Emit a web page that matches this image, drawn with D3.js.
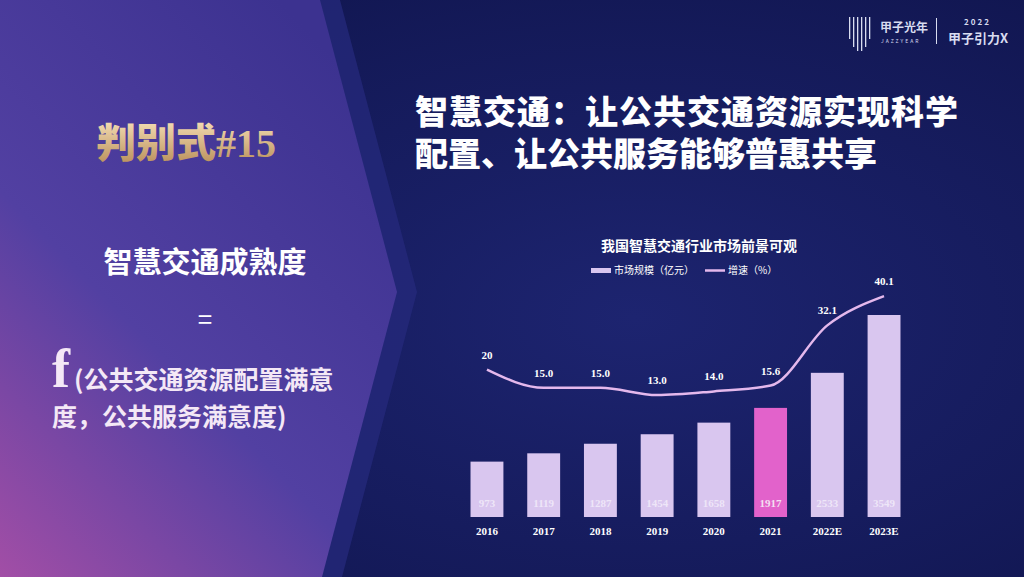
<!DOCTYPE html>
<html>
<head>
<meta charset="utf-8">
<script src="https://cdn.jsdelivr.net/npm/d3@7"></script>
<style>
  html, body { margin: 0; padding: 0; background: #141a5a; }
  svg { display: block; }
</style>
</head>
<body>
<div id="chart"></div>
<script>
// Data
const years = ['2016', '2017', '2018', '2019', '2020', '2021', '2022E', '2023E'];
const marketSize = [973, 1119, 1287, 1454, 1658, 1917, 2533, 3549];
const growthRate = [20, 15.0, 15.0, 13.0, 14.0, 15.6, 32.1, 40.1];
const growthLabels = ['20', '15.0', '15.0', '13.0', '14.0', '15.6', '32.1', '40.1'];
const highlightYear = '2021';
const legendLabels = ['市场规模（亿元）', '增速（%）'];

const WIDTH = 1024;
const HEIGHT = 577;
const CJK = '"Noto Sans CJK SC", "Noto Sans", sans-serif';
const SERIF = '"Liberation Serif", "DejaVu Serif", serif';

const svg = d3.select('#chart')
    .append('svg')
    .attr('width', WIDTH)
    .attr('height', HEIGHT);

const defs = svg.append('defs');

// Background gradient (navy)
const bg = defs.append('radialGradient')
    .attr('id', 'bg')
    .attr('cx', '0.62').attr('cy', '0.55').attr('r', '0.75');
bg.append('stop').attr('offset', '0%').attr('stop-color', '#1d2470');
bg.append('stop').attr('offset', '100%').attr('stop-color', '#10154e');

// Left panel gradient
const panel = defs.append('linearGradient')
    .attr('id', 'panel')
    .attr('x1', '0.7').attr('y1', '0').attr('x2', '0').attr('y2', '1');
panel.append('stop').attr('offset', '0%').attr('stop-color', '#3c3290');
panel.append('stop').attr('offset', '55%').attr('stop-color', '#5240a2');
panel.append('stop').attr('offset', '100%').attr('stop-color', '#a24ea6');

// Gold text gradient
const gold = defs.append('linearGradient')
    .attr('id', 'gold')
    .attr('x1', '0').attr('y1', '0').attr('x2', '0').attr('y2', '1');
gold.append('stop').attr('offset', '0%').attr('stop-color', '#f3dcb2');
gold.append('stop').attr('offset', '100%').attr('stop-color', '#b88d58');

svg.append('rect')
    .attr('width', WIDTH)
    .attr('height', HEIGHT)
    .attr('fill', 'url(#bg)');

// Arrow shaped panels on the left
svg.append('polygon')
    .attr('points', '0,0 340,0 417,292 342,577 0,577')
    .attr('fill', '#252a7c')
    .attr('opacity', 0.75);

svg.append('polygon')
    .attr('points', '0,0 320,0 397,292 322,577 0,577')
    .attr('fill', 'url(#panel)');

// Left panel texts
svg.append('text')
    .attr('x', 186)
    .attr('y', 157)
    .attr('text-anchor', 'middle')
    .style('font-family', `${SERIF}, ${CJK}`)
    .style('font-weight', 900)
    .style('font-size', '40px')
    .attr('fill', 'url(#gold)')
    .text('判别式#15');

svg.append('text')
    .attr('x', 205)
    .attr('y', 273)
    .attr('text-anchor', 'middle')
    .style('font-family', CJK)
    .style('font-weight', 700)
    .style('font-size', '29px')
    .attr('fill', '#ffffff')
    .text('智慧交通成熟度');

svg.append('text')
    .attr('x', 205)
    .attr('y', 329)
    .attr('text-anchor', 'middle')
    .style('font-family', CJK)
    .style('font-size', '26px')
    .attr('fill', '#ffffff')
    .text('=');

const formula = svg.append('g').attr('fill', '#f4e8f6');
formula.append('text')
    .attr('x', 52)
    .attr('y', 387)
    .style('font-family', SERIF)
    .style('font-weight', 700)
    .style('font-size', '54px')
    .text('f');
formula.append('text')
    .attr('x', 74)
    .attr('y', 389)
    .style('font-family', CJK)
    .style('font-weight', 700)
    .style('font-size', '25px')
    .text('(公共交通资源配置满意');
formula.append('text')
    .attr('x', 52)
    .attr('y', 426)
    .style('font-family', CJK)
    .style('font-weight', 700)
    .style('font-size', '25px')
    .text('度，公共服务满意度)');

// Heading
const heading = svg.append('g')
    .style('font-family', CJK)
    .style('font-weight', 900)
    .style('font-size', '33px')
    .attr('fill', '#ffffff');
heading.append('text').attr('x', 415).attr('y', 124).attr('textLength', 543).text('智慧交通：让公共交通资源实现科学');
heading.append('text').attr('x', 415).attr('y', 166).text('配置、让公共服务能够普惠共享');

// Logo (top right)
const logo = svg.append('g').attr('fill', '#d8dcf0');
[0, 4, 8, 12, 16, 20].forEach((dx, i) => {
    logo.append('rect')
        .attr('x', 849 + dx)
        .attr('y', 17)
        .attr('width', 1.3)
        .attr('height', [22, 30, 34, 34, 30, 22][i]);
});
logo.append('text')
    .attr('x', 880).attr('y', 32)
    .style('font-family', CJK).style('font-weight', 700).style('font-size', '12px')
    .text('甲子光年');
logo.append('text')
    .attr('x', 881).attr('y', 43)
    .style('font-family', CJK).style('font-size', '5px').style('letter-spacing', '2px')
    .text('JAZZYEAR');
logo.append('rect').attr('x', 936).attr('y', 18).attr('width', 1).attr('height', 26);
logo.append('text')
    .attr('x', 964).attr('y', 25)
    .style('font-family', CJK).style('font-weight', 700).style('font-size', '8px')
    .style('letter-spacing', '2px')
    .text('2022');
logo.append('text')
    .attr('x', 948).attr('y', 43)
    .style('font-family', CJK).style('font-weight', 700).style('font-size', '13px')
    .text('甲子引力X');

// Chart
const chart = svg.append('g').attr('class', 'chart');

const x = d3.scaleBand()
    .domain(years)
    .range([458.6, 912.4])
    .paddingInner(0.42)
    .paddingOuter(0.21);

const yBar = d3.scaleLinear()
    .domain([0, 3549])
    .range([517, 315]);

const yLine = d3.scaleLinear()
    .domain([0, 45])
    .range([442.5, 278.3]);

// Title
chart.append('text')
    .attr('x', 699)
    .attr('y', 251)
    .attr('text-anchor', 'middle')
    .style('font-family', CJK)
    .style('font-weight', 700)
    .style('font-size', '14px')
    .attr('fill', '#ffffff')
    .text('我国智慧交通行业市场前景可观');

// Legend
const legend = chart.append('g')
    .style('font-family', CJK)
    .style('font-size', '10px')
    .attr('fill', '#ffffff');
legend.append('rect')
    .attr('x', 591).attr('y', 268)
    .attr('width', 20).attr('height', 5)
    .attr('fill', '#d9c6ef');
legend.append('text').attr('x', 614).attr('y', 274).text(legendLabels[0]);
legend.append('line')
    .attr('x1', 705).attr('x2', 725)
    .attr('y1', 270.5).attr('y2', 270.5)
    .attr('stroke', '#e4b8ec')
    .attr('stroke-width', 2.5);
legend.append('text').attr('x', 728).attr('y', 274).text(legendLabels[1]);

// Bars
chart.selectAll('.bar')
    .data(years)
    .join('rect')
    .attr('class', 'bar')
    .attr('x', d => x(d))
    .attr('y', (d, i) => yBar(marketSize[i]))
    .attr('width', x.bandwidth())
    .attr('height', (d, i) => yBar(0) - yBar(marketSize[i]))
    .attr('fill', d => d === highlightYear ? '#e262cb' : '#d9c6ef');

// Bar value labels (inside, near base)
chart.selectAll('.bar-label')
    .data(years)
    .join('text')
    .attr('class', 'bar-label')
    .attr('x', d => x(d) + x.bandwidth() / 2)
    .attr('y', 507)
    .attr('text-anchor', 'middle')
    .style('font-family', SERIF)
    .style('font-weight', 700)
    .style('font-size', '11px')
    .attr('fill', d => d === highlightYear ? '#f6e6f4' : '#f4eefb')
    .attr('opacity', d => d === highlightYear ? 0.95 : 0.8)
    .text((d, i) => marketSize[i]);

// X axis
const xAxis = chart.append('g')
    .attr('transform', `translate(0,${yBar(0)})`)
    .call(d3.axisBottom(x).tickSize(0).tickPadding(10));
xAxis.select('.domain').remove();
xAxis.selectAll('text')
    .style('font-family', SERIF)
    .style('font-weight', 700)
    .style('font-size', '11px')
    .attr('fill', '#ffffff');

// Growth line
const line = d3.line()
    .x((d, i) => x(years[i]) + x.bandwidth() / 2)
    .y(d => yLine(d))
    .curve(d3.curveMonotoneX);

chart.append('path')
    .datum(growthRate)
    .attr('d', line)
    .attr('fill', 'none')
    .attr('stroke', '#e4b8ec')
    .attr('stroke-width', 2.5);

chart.selectAll('.growth-label')
    .data(growthRate)
    .join('text')
    .attr('class', 'growth-label')
    .attr('x', (d, i) => x(years[i]) + x.bandwidth() / 2)
    .attr('y', d => yLine(d) - 11)
    .attr('text-anchor', 'middle')
    .style('font-family', SERIF)
    .style('font-weight', 700)
    .style('font-size', '11px')
    .attr('fill', '#ffffff')
    .text((d, i) => growthLabels[i]);
</script>
</body>
</html>
